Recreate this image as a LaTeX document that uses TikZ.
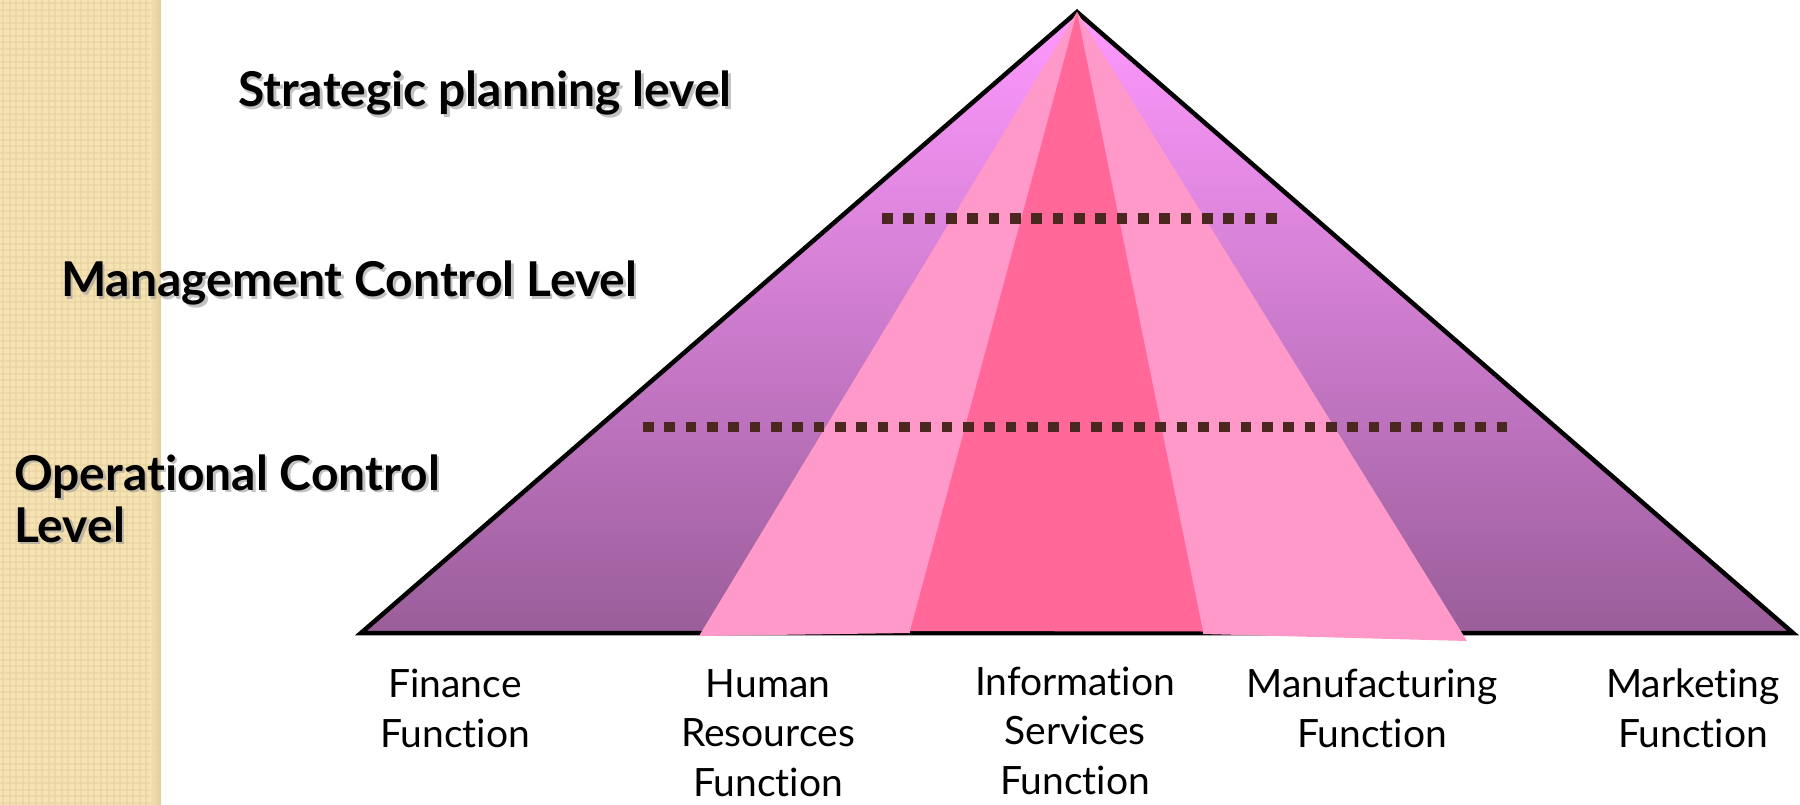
\documentclass[tikz,border=0pt]{standalone}
\usepackage{fontspec}
\setmainfont{Lato}[Ligatures={NoCommon}]
\definecolor{stripbase}{HTML}{F6E3B4}
\definecolor{stripline}{HTML}{E8D2A0}
\definecolor{stripedge}{HTML}{E0C994}
\definecolor{pkTop}{HTML}{FF99FF}
\definecolor{pkBot}{HTML}{9A5E9A}
\definecolor{lightpk}{HTML}{FF99CA}
\definecolor{darkpk}{HTML}{FF6898}
\definecolor{dotbrown}{HTML}{4A2820}
\definecolor{shadowgray}{HTML}{9A9A9A}
\begin{document}
\begin{tikzpicture}[x=1pt,y=-1pt,
  boldlbl/.style={font=\fontsize{48}{52}\selectfont\bfseries, inner sep=0pt, anchor=base west, align=left},
  boldsh/.style={boldlbl, text=shadowgray, opacity=0.6},
  funclbl/.style={font=\fontsize{39}{49.5}\selectfont, inner sep=0pt, anchor=base, align=center},
  dotline/.style={draw=dotbrown, line width=10.67pt, dash pattern=on 10.67pt off 10.67pt}]
\useasboundingbox (0,0) rectangle (1800,805);
\fill[white] (0,0) rectangle (1800,805);
% textured strip
\fill[stripbase] (0,0) rectangle (161,805);
\foreach \i in {0,...,24} {
  \draw[stripline, line width=2pt, opacity=0.6] ({3.25+6.5*\i},0) -- ({3.25+6.5*\i},805);
}
\foreach \j in {0,...,124} {
  \draw[stripline, line width=2pt, opacity=0.6] (0,{3.25+6.5*\j}) -- (161,{3.25+6.5*\j});
}
\shade[left color=stripbase, right color=stripedge, opacity=0.8] (150,0) rectangle (161,805);
% pyramid
\coordinate (apex) at (1077,12);
\coordinate (bl) at (361,633);
\coordinate (br) at (1793,633);
\fill[top color=pkTop, bottom color=pkBot] (apex) -- (bl) -- (br) -- cycle;
\draw[line width=4.5pt, line join=miter] (apex) -- (bl) -- (br) -- cycle;
\coordinate (lpL) at (699,636);
\coordinate (dpL) at (910,633);
\coordinate (dpR) at (1203,634);
\coordinate (lpR) at (1467,641);
\fill[lightpk] (apex) -- (lpL) -- (dpL) -- (dpR) -- (lpR) -- cycle;
\draw[line width=4.5pt] (dpL) -- (dpR |- dpL);
\fill[darkpk] (apex) -- (910,631) -- (1203,631.5) -- cycle;
% dotted level lines
\coordinate (d1a) at (882,218.7);
\coordinate (d1b) at (1278,218.7);
\coordinate (d2a) at (643,427);
\coordinate (d2b) at (1507,427);
\draw[dotline] (d1a) -- (d1b);
\draw[dotline] (d2a) -- (d2b);
% level labels
\node[boldsh] (strat-sh) at (240.5,109.5) {Strategic planning level};
\node[boldlbl] (strat) at (238,107) {Strategic planning level};
\node[boldsh] (mgmt-sh) at (63.5,299.5) {Management Control Level};
\node[boldlbl] (mgmt) at (61,297) {Management Control Level};
\node[boldsh] (oper-sh) at (16.5,544.5) {Operational Control\\Level};
\node[boldlbl] (oper) at (14,542) {Operational Control\\Level};
% function labels (anchored at the baseline of the last line)
\node[funclbl] (fin) at (455,747) {Finance\\Function};
\node[funclbl] (hr) at (768,796) {Human\\Resources\\Function};
\node[funclbl] (is) at (1075,794) {Information\\Services\\Function};
\node[funclbl] (mfg) at (1372,747) {Manufacturing\\Function};
\node[funclbl] (mkt) at (1693,747) {Marketing\\Function};
\end{tikzpicture}
\end{document}
